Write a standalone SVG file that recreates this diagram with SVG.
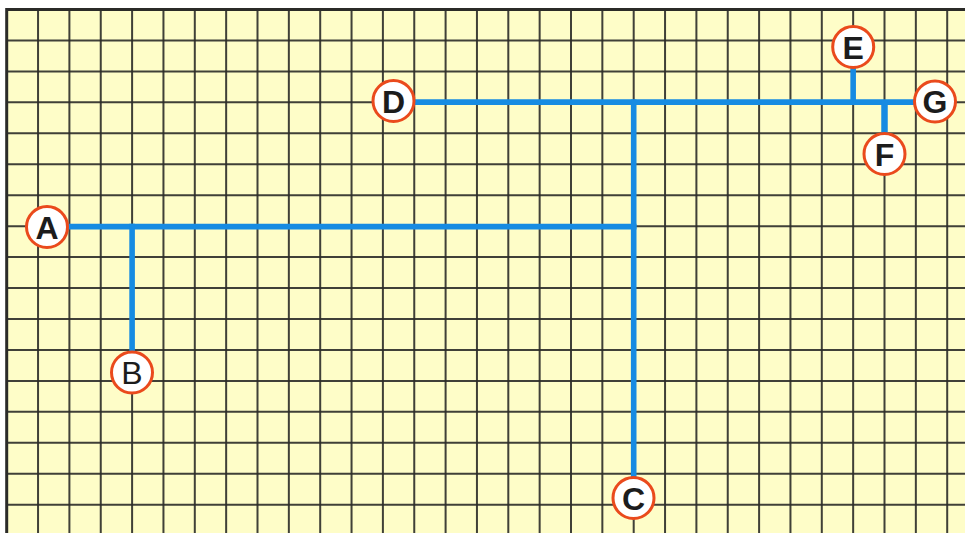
<svg xmlns="http://www.w3.org/2000/svg" width="965" height="533" viewBox="0 0 965 533">
<style>
.grid{stroke:#2b2b28;stroke-width:2;fill:none;opacity:0.9}
.border{stroke:#2b2b28;stroke-width:3;fill:none}
.wire{stroke:#168be2;stroke-width:5.6;fill:none;stroke-linecap:butt}
.node circle{fill:#ffffff;stroke:#ea4a1c;stroke-width:3}
.node text{font-family:"Liberation Sans",Arial,sans-serif;font-size:32px;font-weight:bold;fill:#1c1c1c;text-anchor:middle}
</style>
<rect x="0" y="0" width="965" height="533" fill="#ffffff"/>
<rect x="6.7" y="9.5" width="958.3" height="523.5" fill="#fefdc8"/>
<g id="grid">
<path class="grid" d="M38.05 9.5V533M69.4 9.5V533M100.75 9.5V533M132.1 9.5V533M163.45 9.5V533M194.8 9.5V533M226.15 9.5V533M257.5 9.5V533M288.85 9.5V533M320.2 9.5V533M351.55 9.5V533M382.9 9.5V533M414.25 9.5V533M445.6 9.5V533M476.95 9.5V533M508.3 9.5V533M539.65 9.5V533M571 9.5V533M602.35 9.5V533M633.7 9.5V533M665.05 9.5V533M696.4 9.5V533M727.75 9.5V533M759.1 9.5V533M790.45 9.5V533M821.8 9.5V533M853.15 9.5V533M884.5 9.5V533M915.85 9.5V533M947.2 9.5V533"/>
<path class="grid" d="M6.7 40.45H965M6.7 71.4H965M6.7 102.35H965M6.7 133.3H965M6.7 164.25H965M6.7 195.2H965M6.7 226.15H965M6.7 257.1H965M6.7 288.05H965M6.7 319H965M6.7 349.95H965M6.7 380.9H965M6.7 411.85H965M6.7 442.8H965M6.7 473.75H965M6.7 504.7H965"/>
<path class="border" d="M6.7 533V9.5H965"/>
</g>
<g id="connectors">
<path class="wire" d="M47 226.6H636.5"/>
<path class="wire" d="M132.1 223.8V372"/>
<path class="wire" d="M633.7 99.6V498"/>
<path class="wire" d="M393.5 102.1H935"/>
<path class="wire" d="M853.15 47V104"/>
<path class="wire" d="M884.5 100V154" style="stroke-width:6.5"/>
</g>
<g id="node-A" class="node"><circle cx="47" cy="227" r="20.5"/><text x="47" y="238.5">A</text></g>
<g id="node-B" class="node"><circle cx="132" cy="372.5" r="20.5"/><text x="132" y="384" style="font-weight:normal">B</text></g>
<g id="node-C" class="node"><circle cx="633.5" cy="498" r="20.5"/><text x="633.5" y="509.5">C</text></g>
<g id="node-D" class="node"><circle cx="393.5" cy="101" r="20.5"/><text x="393.5" y="112.5">D</text></g>
<g id="node-E" class="node"><circle cx="853.2" cy="47" r="20.5"/><text x="853.2" y="58.5">E</text></g>
<g id="node-F" class="node"><circle cx="884.5" cy="154" r="20.5"/><text x="884.5" y="165.5">F</text></g>
<g id="node-G" class="node"><circle cx="935" cy="101.5" r="20.5"/><text x="935" y="113">G</text></g>
</svg>
